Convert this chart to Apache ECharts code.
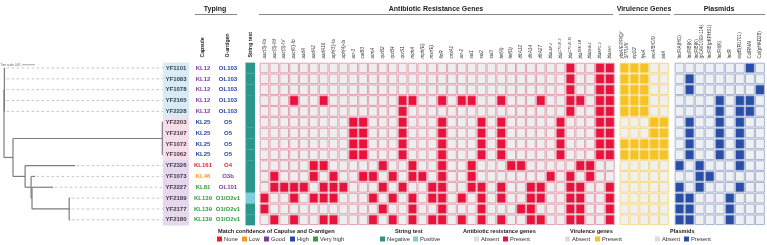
<!DOCTYPE html>
<html><head><meta charset="utf-8">
<script src="https://cdn.jsdelivr.net/npm/echarts/dist/echarts.min.js"></script>
<style>html,body{margin:0;padding:0;background:#fff}#c{width:767px;height:245px}</style>
</head><body><div id="c"></div>
<script>
// ---------------- DATA ----------------
const treeNewick = "((YF1101:0.0005,YF1083:0.0005,YF1078:0.0005,YF2165:0.0005,YF2228:0.0005):0.0003,((YF2203:0.0008,YF2197:0.0008,YF1072:0.0008,YF1062:0.0008):0.1146,(YF2326:0.0384,(YF1073:0.003,(YF2227:0.0162,(YF2189:0.0008,YF2177:0.0008,YF2180:0.0008):0.0285):0.0007):0.0046):0.0093):0.0069);";
const treeScale = 0.01;
const strains = ["YF1101","YF1083","YF1078","YF2165","YF2228","YF2203","YF2197","YF1072","YF1062","YF2326","YF1073","YF2227","YF2189","YF2177","YF2180"];
const strainGroup = [0,0,0,0,0,1,1,1,1,2,2,2,2,2,2];
const capsule = ["KL12","KL12","KL12","KL12","KL12","KL25","KL25","KL25","KL25","KL161","KL46","KL81","KL139","KL139","KL139"];
const capsuleConf = ["Good","Good","Good","Good","Good","High","High","High","High","None","Low","Very high","Very high","Very high","Very high"];
const oAntigen = ["OL103","OL103","OL103","OL103","OL103","O5","O5","O5","O5","O4","O3b","OL101","O1/O2v1","O1/O2v1","O1/O2v1"];
const oAntigenConf = ["High","High","High","High","High","High","High","High","High","None","Good","Good","Very high","Very high","Very high"];
const stringTest = ["Negative","Negative","Negative","Negative","Negative","Negative","Negative","Negative","Negative","Negative","Negative","Negative","Positive","Negative","Negative"];
const confLevels = ["None","Low","Good","High","Very high"];

const argGenes = ["aac(3)-IIa","aac(3)-IId","aac(3)-IV","aac(6')-Ib","aadA","aadA2","aadA16","aph(3')-Ia","aph(4)-Ia","arr-3","catB3","armA","qnrB2","qnrB4","qnrS1","mphA","mph(E)","msr(E)","floR","cmlA1","arr-2","sul1","sul2","sul3","tet(A)","tet(D)","dfrA12","dfrA14","dfrA27","blaLAP-2","blaCTX-M-3","blaCTX-M-15","blaTEM-1B","blaDHA-1","blaKPC-2","blaSHV"];
// indices of present ARGs per strain
const argPresent = [
  [31,34,35],
  [31,34,35],
  [31,34,35],
  [3,6,14,15,18,20,21,24,28,31,32,34,35],
  [14,31,34,35],
  [9,10,14,18,22,24,30,34,35],
  [9,10,14,18,22,24,30,34,35],
  [9,10,14,18,22,24,30,34,35],
  [9,10,14,18,22,24,30,34,35],
  [5,6,12,15,18,21,25,26,32,33],
  [1,5,7,10,11,13,15,16,18,21,29,31,33],
  [1,2,3,4,6,7,8,12,14,17,18,21,22,24,27,28,31,32,35],
  [0,3,5,6,7,11,13,15,17,18,20,22,24,27,28,31,32,35],
  [0,12,15,18,22,26,27,31,32,35],
  [1,3,6,7,11,13,15,17,18,20,22,24,27,28,31,32,35]
];
const virGenes = ["ybtA/E/I/P/Q/\nS/T/U/X","irp1/2","fyuA","iucA/B/C/D","iutA"];
const virRows = ["11100","11100","11100","11100","11100","00011","00011","11111","11111","00000","00000","00000","00000","00000","00000"];
const plasmids = ["IncFIA(HI1)","IncFIB(K)","IncFIB(K)\n(pCAV1099-114)","IncFIB(pKPHS1)","IncFII(K)","IncR","repB(R1701)","ColRNAI","Col(pHAD28)"];
const plasmidRows = ["000000010","010000000","010000001","000010110","000010110","010010100","010010100","010010100","010010100","101000100","001100000","101000100","110001000","110001000","110001000"];

// ---------------- STYLE ----------------
const FONT = '"Liberation Sans", Arial, sans-serif';
const confColor = {"None":"#e1262b","Low":"#f59b23","Good":"#7b3c9e","High":"#2447a8","Very high":"#2f9e3c"};
const groupBg = ["#d6ebf8","#f8dde9","#e6d6ee"];
const strColor = {"Negative":"#2b978b","Positive":"#7dcfdb"};
const TOP = 62.6, H = 162.6;

// ---------------- TREE ----------------
function parseNewick(s){
  let i=0;
  function node(){
    const n={children:[],name:'',len:0};
    if(s[i]==='('){ i++; n.children.push(node()); while(s[i]===','){i++; n.children.push(node());} i++; }
    let name=''; while(i<s.length && !',():;'.includes(s[i])) name+=s[i++];
    n.name=name;
    if(s[i]===':'){ i++; let num=''; while(i<s.length && !',();'.includes(s[i])) num+=s[i++]; n.len=parseFloat(num);}
    return n;
  }
  return node();
}
const root = parseNewick(treeNewick);
const treeSegs = [];
let maxDepth = 0;
(function layout(n, d){
  n.depth = d + n.len;
  maxDepth = Math.max(maxDepth, n.depth);
  if(n.children.length){
    n.children.forEach(c=>layout(c, n.depth));
    n.y = (n.children[0].y + n.children[n.children.length-1].y)/2;
  } else n.y = strains.indexOf(n.name);
})(root, 0);
const treeMax = maxDepth + 0.0005;
(function segs(n){
  if(n.children.length){
    treeSegs.push([n.depth, n.children[0].y, n.depth, n.children[n.children.length-1].y, 0]);
    n.children.forEach(c=>{ treeSegs.push([n.depth, c.y, c.depth, c.y, 0]); segs(c); });
  } else {
    if(treeMax - n.depth > 0.002) treeSegs.push([n.depth+0.0012, n.y, treeMax, n.y, 1]);
  }
})(root);

// ---------------- MATRICES ----------------
const argData=[], virData=[], plData=[], strData=[], labData=[];
strains.forEach((s,r)=>{
  argGenes.forEach((g,c)=>argData.push([c, r, argPresent[r].includes(c)?1:0]));
  virGenes.forEach((g,c)=>virData.push([c, r, +virRows[r][c]]));
  plasmids.forEach((g,c)=>plData.push([c, r, +plasmidRows[r][c]]));
  strData.push([0, r, stringTest[r]==='Positive'?1:0]);
  labData.push([0, r]);
});

function cellRender(absent, present, stroke, pad){
  return function(params, api){
    const p = api.coord([api.value(0), api.value(1)]);
    const s = api.size([1,1]);
    const v = api.value(2);
    return {type:'rect', shape:{x:p[0]-s[0]/2+pad, y:p[1]-s[1]/2+pad, width:s[0]-2*pad, height:s[1]-2*pad},
      style:{fill: v? present: absent, stroke: stroke, lineWidth: 1}};
  };
}

const gridDefs = [
  {left:4, width:160},      // 0 tree
  {left:163, width:26},     // 1 strain labels
  {left:192, width:22},     // 2 capsule
  {left:216, width:24},     // 3 O-antigen
  {left:245.5, width:9.5},  // 4 string test
  {left:259.5, width:355.3},// 5 ARG
  {left:619.5, width:49.4}, // 6 virulence
  {left:674.5, width:90.5}  // 7 plasmids
];
const grid = gridDefs.map(g=>({left:g.left, width:g.width, top:TOP, height:H, outerBoundsMode:'none', containLabel:false}));
const yAxis = gridDefs.map((g,i)=>({type:'value', gridIndex:i, min:-0.5, max:14.5, inverse:true, show:false}));
function catAxis(i, data, opts){
  return Object.assign({type:'category', gridIndex:i, data:data, position:'top', boundaryGap:true,
    axisLine:{show:false}, axisTick:{show:false}, splitLine:{show:false},
    axisLabel:Object.assign({rotate:90, interval:0, margin:5, fontFamily:FONT, color:'#222'}, opts||{})});
}
const headerLbl = {fontSize:5.2, fontWeight:'bold', margin:5};
const geneLbl = {fontSize:4.6, fontStyle:'italic', margin:4, color:'#333', lineHeight:5,
  formatter: v => v.startsWith('bla') ? '{i|bla}{s|'+v.slice(3)+'}' : v,
  rich:{i:{fontSize:4.6, fontStyle:'italic', fontFamily:FONT, color:'#333'}, s:{fontSize:3.4, fontStyle:'italic', fontFamily:FONT, color:'#333'}}};
const xAxis = [
  {type:'value', gridIndex:0, min:0, max:treeMax, show:false},
  catAxis(1, [''], {show:false}),
  catAxis(2, ['Capsule'], headerLbl),
  catAxis(3, ['O-antigen'], headerLbl),
  catAxis(4, ['String test'], headerLbl),
  catAxis(5, argGenes, geneLbl),
  catAxis(6, virGenes, {fontSize:4.6, fontStyle:'italic', margin:4, color:'#333', lineHeight:5}),
  catAxis(7, plasmids, {fontSize:4.6, margin:4, color:'#333', lineHeight:5})
];

const series = [
  {type:'custom', xAxisIndex:0, yAxisIndex:0, data:treeSegs, silent:true,
    renderItem(params, api){
      const a = api.coord([api.value(0), api.value(1)]);
      const b = api.coord([api.value(2), api.value(3)]);
      const dashed = api.value(4)===1;
      return {type:'line', shape:{x1:a[0],y1:a[1],x2:b[0],y2:b[1]},
        style:dashed?{stroke:'#b5b5b5', lineWidth:0.8, lineDash:[2.5,2.5]}:{stroke:'#7c7c7c', lineWidth:1.2}};
    }},
  {type:'custom', xAxisIndex:0, yAxisIndex:0, data:[[0.0138, -0.3]], silent:true,
    renderItem(params, api){
      const a = api.coord([api.value(0), api.value(1)]);
      const b = api.coord([api.value(0)+treeScale, api.value(1)]);
      return {type:'group', children:[
        {type:'line', shape:{x1:a[0],y1:a[1],x2:b[0],y2:b[1]}, style:{stroke:'#666', lineWidth:0.6}},
        {type:'text', style:{x:a[0]-1.5, y:a[1], text:'Tree scale: '+treeScale, fontSize:2.8, fontFamily:FONT, fill:'#555', align:'right', verticalAlign:'middle'}}
      ]};
    }},
  {type:'custom', xAxisIndex:1, yAxisIndex:1, data:labData, silent:true,
    renderItem(params, api){
      const r = api.value(1);
      const p = api.coord([0, r]); const s = api.size([1,1]);
      return {type:'group', children:[
        {type:'rect', shape:{x:p[0]-s[0]/2, y:p[1]-s[1]/2, width:s[0], height:s[1]+0.3}, style:{fill:groupBg[strainGroup[r]]}},
        {type:'text', style:{x:p[0], y:p[1], text:strains[r], fontSize:6, fontWeight:'bold', fontFamily:FONT, fill:'#3d3d3d', align:'center', verticalAlign:'middle'}}
      ]};
    }},
  {type:'custom', xAxisIndex:2, yAxisIndex:2, data:labData, silent:true,
    renderItem(params, api){
      const r = api.value(1); const p = api.coord([0, r]);
      return {type:'text', style:{x:p[0], y:p[1], text:capsule[r], fontSize:6, fontWeight:'bold', fontFamily:FONT, fill:confColor[capsuleConf[r]], align:'center', verticalAlign:'middle'}};
    }},
  {type:'custom', xAxisIndex:3, yAxisIndex:3, data:labData, silent:true,
    renderItem(params, api){
      const r = api.value(1); const p = api.coord([0, r]);
      return {type:'text', style:{x:p[0], y:p[1], text:oAntigen[r], fontSize:6, fontWeight:'bold', fontFamily:FONT, fill:confColor[oAntigenConf[r]], align:'center', verticalAlign:'middle'}};
    }},
  {type:'custom', xAxisIndex:4, yAxisIndex:4, data:strData, silent:true,
    renderItem(params, api){
      const p = api.coord([0, api.value(1)]); const s = api.size([1,1]);
      return {type:'rect', shape:{x:p[0]-s[0]/2, y:p[1]-s[1]/2, width:s[0], height:s[1]+0.2}, style:{fill: api.value(2)?strColor.Positive:strColor.Negative}};
    }},
  {type:'custom', xAxisIndex:5, yAxisIndex:5, data:argData, silent:true, renderItem:cellRender('#eeeeee','#e8123b','#e3a2b2',0.6)},
  {type:'custom', xAxisIndex:6, yAxisIndex:6, data:virData, silent:true, renderItem:cellRender('#f0f0f0','#f7c320','#f2da8c',0.6)},
  {type:'custom', xAxisIndex:7, yAxisIndex:7, data:plData, silent:true, renderItem:cellRender('#eef0f3','#2a4ea6','#a8b6d4',0.6)}
];

// ---------------- TITLES & LEGEND ----------------
const graphic = [];
function title(text, cx, x1, x2){
  graphic.push({type:'text', x:cx, y:9, style:{text, fontSize:7, fontWeight:'bold', fontFamily:FONT, fill:'#222', align:'center', verticalAlign:'middle'}});
  graphic.push({type:'line', shape:{x1, y1:14.5, x2, y2:14.5}, style:{stroke:'#666', lineWidth:0.8}});
}
title('Typing', 215, 195, 237);
title('Antibiotic Resistance Genes', 436, 259, 613);
title('Virulence Genes', 644, 619, 670);
title('Plasmids', 719, 674, 765);

const legendBlocks = [
  {title:'Match confidence of Capulse and O-antigen', tx:218, items:confLevels.map((l,i)=>({label:l, color:confColor[l], x:[217,242,264,290,313][i]}))},
  {title:'String test', tx:395, items:[{label:'Negative', color:strColor.Negative, x:380},{label:'Positive', color:strColor.Positive, x:413}]},
  {title:'Antibiotic resistance genes', tx:463, items:[{label:'Absent', color:'#dddddd', x:474},{label:'Present', color:'#e8123b', x:503}]},
  {title:'Virulence genes', tx:570, items:[{label:'Absent', color:'#dddddd', x:565},{label:'Present', color:'#f7c320', x:595}]},
  {title:'Plasmids', tx:670, items:[{label:'Absent', color:'#dddddd', x:655},{label:'Present', color:'#2a4ea6', x:684}]}
];
legendBlocks.forEach(b=>{
  graphic.push({type:'text', x:b.tx, y:231, style:{text:b.title, fontSize:5.6, fontWeight:'bold', fontFamily:FONT, fill:'#222', verticalAlign:'middle'}});
  b.items.forEach(it=>{
    graphic.push({type:'rect', shape:{x:it.x, y:236.5, width:5, height:5}, style:{fill:it.color}});
    graphic.push({type:'text', x:it.x+7, y:239.2, style:{text:it.label, fontSize:5.8, fontFamily:FONT, fill:'#333', verticalAlign:'middle'}});
  });
});

const chart = echarts.init(document.getElementById('c'), null, {renderer:'canvas'});
chart.setOption({animation:false, backgroundColor:'#ffffff', grid, xAxis, yAxis, series, graphic});
</script></body></html>
